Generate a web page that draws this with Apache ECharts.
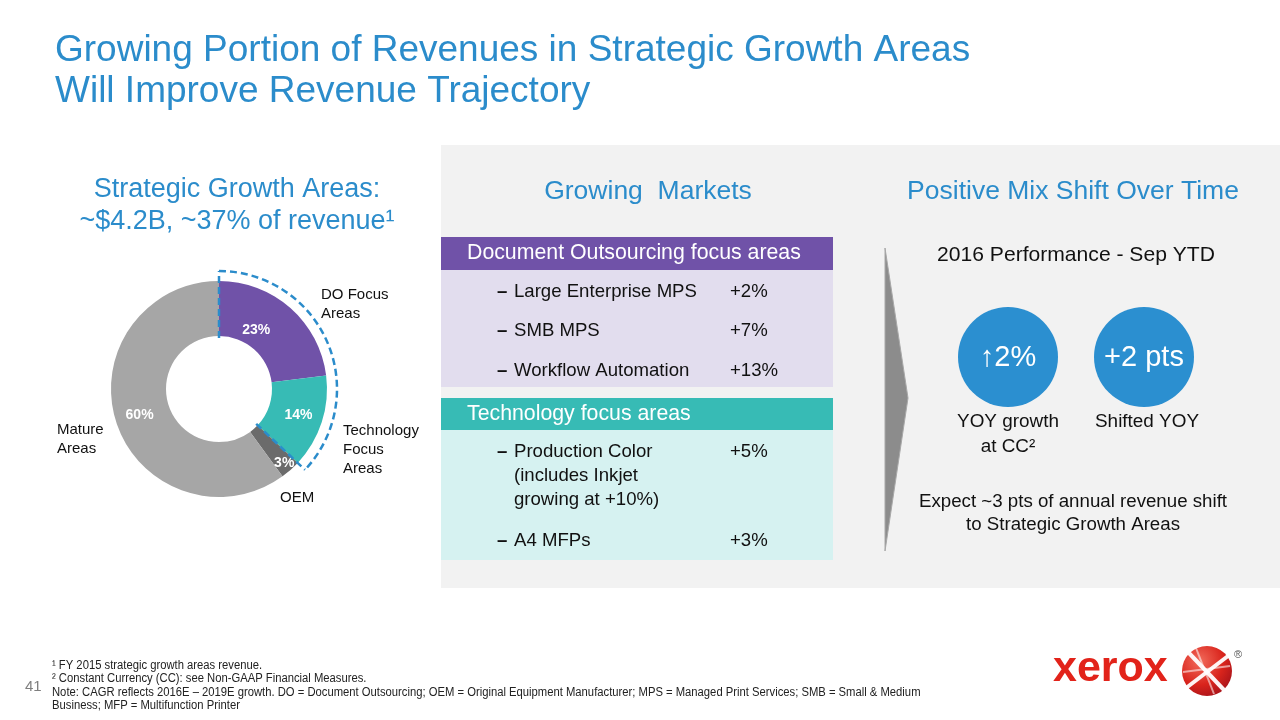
<!DOCTYPE html>
<html><head><meta charset="utf-8">
<script src="https://cdn.jsdelivr.net/npm/echarts@6/dist/echarts.min.js"></script>
<style>html,body{margin:0;padding:0;background:#fff}#c{width:1280px;height:720px}</style>
</head><body><div id="c"></div>
<script>
// ---------- data ----------
const categories = ['DO Focus\nAreas', 'Technology\nFocus\nAreas', 'OEM', 'Mature\nAreas'];
const shares = [23, 14, 3, 60];
const focusCount = 2; // first two categories are the strategic growth areas
const doHeader = 'Document Outsourcing focus areas';
const doItems = ['Large Enterprise MPS', 'SMB MPS', 'Workflow Automation'];
const doGrowth = ['+2%', '+7%', '+13%'];
const techHeader = 'Technology focus areas';
const techItems = ['Production Color\n(includes Inkjet\ngrowing at +10%)', 'A4 MFPs'];
const techGrowth = ['+5%', '+3%'];
const kpiValues = ['↑2%', '+2 pts'];
const kpiLabels = ['YOY growth\nat CC²', 'Shifted YOY'];
const footnotes = [
  '¹ FY 2015 strategic growth areas revenue.',
  '² Constant Currency (CC): see Non-GAAP Financial Measures.',
  'Note: CAGR reflects 2016E – 2019E growth. DO = Document Outsourcing; OEM = Original Equipment Manufacturer; MPS = Managed Print Services; SMB = Small & Medium',
  'Business; MFP = Multifunction Printer'
];

// ---------- styles / layout ----------
const FONT = '"Liberation Sans", Arial, sans-serif';
const BLUE = '#2B8CCB';
const sliceColors = ['#7052A8', '#37BBB5', '#6B6B6B', '#A6A6A6'];
const C = [219, 389];
const R = [53, 108];

const chart = echarts.init(document.getElementById('c'), null, {renderer: 'canvas'});

function txt(x, y, text, size, color, opts) {
  opts = opts || {};
  const e = {
    type: 'text', x: x, y: y, z: opts.z || 10,
    style: {
      text: text, fill: color, fontFamily: opts.family || FONT, fontSize: size,
      fontWeight: opts.weight || 'normal',
      align: opts.align || 'left', verticalAlign: opts.valign || 'middle',
      lineHeight: opts.lh || Math.round(size * 1.2)
    }
  };
  if (opts.sx) e.scaleX = opts.sx;
  return e;
}
function rect(x, y, w, h, color, z) {
  return {type: 'rect', z: z || 1, shape: {x: x, y: y, width: w, height: h}, style: {fill: color}};
}

const els = [];
// title
els.push(txt(55, 71, 'Growing Portion of Revenues in Strategic Growth Areas\nWill Improve Revenue Trajectory', 37, BLUE, {lh: 41}));
// left subtitle
els.push(txt(237, 206, 'Strategic Growth Areas:\n~$4.2B, ~37% of revenue¹', 27, BLUE, {align: 'center', lh: 32}));
// panel
els.push(rect(441, 145, 839, 443, '#F2F2F2', 0));
els.push(txt(648, 192, 'Growing  Markets', 26.5, BLUE, {align: 'center'}));
els.push(txt(1073, 192, 'Positive Mix Shift Over Time', 26.5, BLUE, {align: 'center'}));

// DO table
els.push(rect(441, 237, 392, 33, '#7052A8', 2));
els.push(rect(441, 270, 392, 117, '#E2DDEE', 2));
els.push(txt(467, 253.5, doHeader, 21.3, '#ffffff'));
const doY = [292, 331, 371];
doItems.forEach(function (t, i) {
  els.push(txt(497, doY[i], '–', 18.6, '#111', {weight: 'bold'}));
  els.push(txt(514, doY[i], t, 18.6, '#111'));
  els.push(txt(730, doY[i], doGrowth[i], 18.6, '#111'));
});
// Tech table
els.push(rect(441, 398, 392, 32, '#37BBB5', 2));
els.push(rect(441, 430, 392, 130, '#D6F2F1', 2));
els.push(txt(467, 414, techHeader, 21.3, '#ffffff'));
const techY = [452, 541];
techItems.forEach(function (t, i) {
  els.push(txt(497, techY[i], '–', 18.6, '#111', {weight: 'bold'}));
  els.push(txt(514, techY[i] - 12, t, 18.6, '#111', {valign: 'top', lh: 24}));
  els.push(txt(730, techY[i], techGrowth[i], 18.6, '#111'));
});

// chevron arrow
els.push({
  type: 'polygon', z: 2,
  shape: {points: [[885, 248], [908, 398], [885, 551]]},
  style: {fill: '#8C8C8C', stroke: '#A8A8A8', lineWidth: 1}
});

// right side
els.push(txt(1076, 255, '2016 Performance - Sep YTD', 21.1, '#111', {align: 'center'}));
const kx = [1008, 1144];
kpiValues.forEach(function (v, i) {
  els.push({type: 'circle', z: 3, shape: {cx: kx[i], cy: 357, r: 50}, style: {fill: '#2B8FD0'}});
  els.push(txt(kx[i], 358, v, 29, '#ffffff', {align: 'center'}));
  els.push(txt(kx[i] + (i ? 3 : 0), 409, kpiLabels[i], 18.9, '#111', {align: 'center', valign: 'top', lh: 25}));
});
els.push(txt(1073, 513.5, 'Expect ~3 pts of annual revenue shift\nto Strategic Growth Areas', 18.7, '#111', {align: 'center', lh: 23}));

// donut outside labels
const labPos = [[321, 304.5], [343, 450], [280, 498], [57, 439.5]];
categories.forEach(function (c, i) {
  els.push(txt(labPos[i][0], labPos[i][1], c, 15, '#111', {lh: 19}));
});

// dashed bracket around strategic growth areas (angles from data)
const total = shares.reduce(function (a, b) { return a + b; }, 0);
let focus = 0;
for (let i = 0; i < focusCount; i++) focus += shares[i];
const a0 = -Math.PI / 2;
const a1 = a0 + 2 * Math.PI * focus / total;
const rIn = 51, rOut = 118;
const dash = {stroke: BLUE, lineWidth: 2.5, lineDash: [7, 4], fill: null};
els.push({type: 'arc', z: 20, shape: {cx: C[0], cy: C[1], r: rOut, startAngle: a0, endAngle: a1, clockwise: true}, style: dash});
[a0, a1].forEach(function (a) {
  els.push({type: 'line', z: 20, shape: {
    x1: C[0] + rIn * Math.cos(a), y1: C[1] + rIn * Math.sin(a),
    x2: C[0] + rOut * Math.cos(a), y2: C[1] + rOut * Math.sin(a)}, style: dash});
});

// footer
els.push(txt(25, 687, '41', 15, '#7F7F7F'));
const fnY = [666, 679, 693, 706];
footnotes.forEach(function (f, i) {
  els.push(txt(52, fnY[i], f, 12.5, '#222', {sx: 0.9}));
});

// xerox logo
els.push(txt(1053, 669, 'xerox', 43, '#E2231A', {weight: 'bold'}));
els.push({type: 'circle', z: 5, shape: {cx: 1207, cy: 671, r: 25},
  style: {fill: new echarts.graphic.RadialGradient(0.35, 0.3, 0.8, [{offset: 0, color: '#F26B5B'}, {offset: 0.6, color: '#D9241C'}, {offset: 1, color: '#A3121A'}])}});
[[[1188, 652], [1224, 690]], [[1186, 688], [1228, 656]], [[1196, 648], [1214, 694]], [[1183, 672], [1230, 666]]].forEach(function (p, i) {
  els.push({type: 'line', z: 6, shape: {x1: p[0][0], y1: p[0][1], x2: p[1][0], y2: p[1][1]},
    style: {stroke: 'rgba(255,255,255,' + (i < 2 ? 0.95 : 0.55) + ')', lineWidth: i < 2 ? 4 : 2}});
});
els.push(txt(1238, 655, '®', 11, '#555', {align: 'center'}));

const labelOffsets = [[-18, 4], [0, 0], [10, 12], [0, 0]];

chart.setOption({
  animation: false,
  backgroundColor: '#ffffff',
  series: [{
    type: 'pie',
    center: C, radius: R, startAngle: 90, clockwise: true,
    silent: true, z: 5,
    label: {show: true, position: 'inside', formatter: '{c}%', color: '#fff', fontWeight: 'bold', fontSize: 14, fontFamily: FONT},
    labelLine: {show: false},
    itemStyle: {borderWidth: 0},
    data: shares.map(function (v, i) {
      return {name: categories[i], value: v, itemStyle: {color: sliceColors[i]}, label: {offset: labelOffsets[i]}};
    })
  }],
  graphic: {elements: els}
});
</script></body></html>
